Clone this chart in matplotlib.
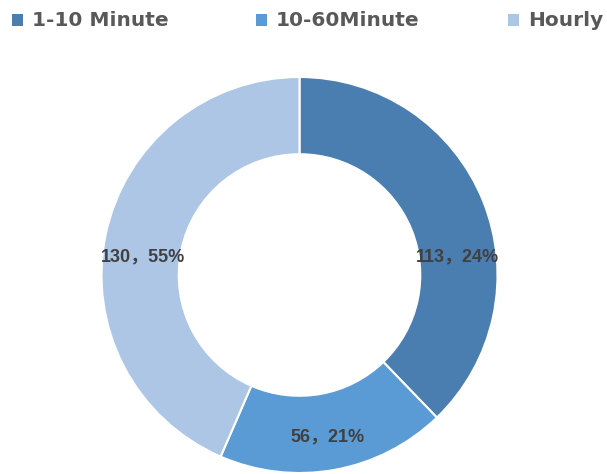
import matplotlib
matplotlib.use("Agg")
import matplotlib.pyplot as plt
from matplotlib.patches import Rectangle

# data
categories = ["1-10 Minute", "10-60Minute", "Hourly"]
counts = [113, 56, 130]
pct_labels = ["24%", "21%", "55%"]
colors = ["#4A7EB0", "#5B9BD5", "#ADC6E5"]

# where Excel put the data labels (axes data coords, radius 1 = outer edge)
label_xy = [(0.80, 0.09), (0.14, -0.82), (-0.79, 0.09)]

W, H = 607, 474
fig = plt.figure(figsize=(W / 100, H / 100), dpi=100)

cx, cy, r = 299.5, 275, 198
ax = fig.add_axes([(cx - r) / W, (H - cy - r) / H, 2 * r / W, 2 * r / H])

wedges, _ = ax.pie(counts, colors=colors, startangle=90, counterclock=False,
                   radius=1.0,
                   wedgeprops=dict(width=0.39, edgecolor="white", linewidth=1.5))
ax.set_xlim(-1, 1)
ax.set_ylim(-1, 1)
ax.axis("off")

for (x, y), n, p in zip(label_xy, counts, pct_labels):
    ax.text(x, y, f"{n}，{p}", ha="center", va="center", fontsize=13,
            fontweight="bold", color="#404040",
            family=["Liberation Sans", "Noto Sans CJK SC"])

# legend across the top, drawn by hand to keep Excel's spacing
leg_x = [12, 256, 508]
leg_y = 20
sq = 11
for x, name, w in zip(leg_x, categories, wedges):
    fig.add_artist(Rectangle((x / W, (H - leg_y - sq / 2) / H), sq / W, sq / H,
                             transform=fig.transFigure,
                             facecolor=w.get_facecolor(), edgecolor="none"))
    fig.text((x + 20) / W, (H - leg_y) / H, name, ha="left", va="center",
             fontsize=14.5, fontweight="bold", color="#595959",
             family="DejaVu Sans")

fig.savefig("out.png", dpi=100)
